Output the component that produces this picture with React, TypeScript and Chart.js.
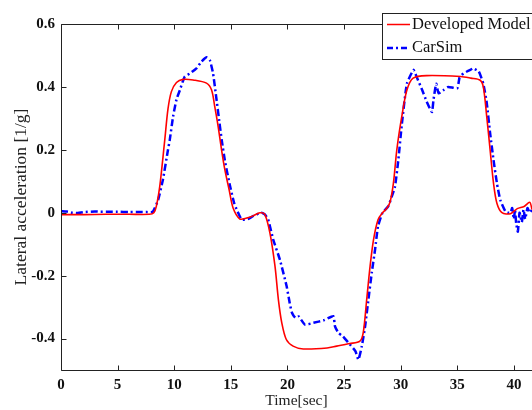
import React, { useEffect, useRef } from "react";
import { Chart, registerables } from "chart.js";

Chart.register(...registerables);

const redTime = [0, 2, 4, 6, 7.8, 8.2, 8.42, 8.72, 9.16, 9.45, 9.75, 10.2, 10.78, 11.67, 12.85, 13.3, 13.58, 13.88, 14.18, 14.47, 14.85, 15.2, 15.8, 16.4, 16.97, 17.57, 18.0, 18.45, 18.9, 19.2, 19.5, 19.9, 20.5, 21.4, 23.5, 24.35, 25.5, 26.4, 26.7, 27.0, 27.3, 27.6, 28.0, 28.4, 28.8, 29.07, 29.36, 29.66, 30.1, 30.55, 31.1, 32.3, 35.3, 36.2, 37.0, 37.3, 37.6, 37.9, 38.2, 38.5, 38.95, 39.7, 40.3, 40.9, 41.4, 41.6];
const redValues = [-0.006, -0.006, -0.005, -0.005, -0.005, 0.0, 0.02, 0.083, 0.23, 0.33, 0.385, 0.414, 0.424, 0.422, 0.412, 0.39, 0.337, 0.274, 0.2, 0.137, 0.073, 0.015, -0.02, -0.017, -0.01, 0.0, -0.005, -0.064, -0.17, -0.276, -0.35, -0.403, -0.424, -0.433, -0.43, -0.424, -0.416, -0.408, -0.38, -0.276, -0.17, -0.086, -0.022, 0.0, 0.015, 0.035, 0.094, 0.2, 0.306, 0.39, 0.428, 0.436, 0.433, 0.428, 0.422, 0.4, 0.306, 0.2, 0.094, 0.03, 0.0, -0.003, 0.013, 0.02, 0.033, 0.01];

const blueTime = [0, 0.5, 1, 1.5, 2, 3, 3.5, 4, 5, 6, 7, 7.5, 8.1, 8.57, 9.0, 9.45, 9.6, 9.9, 10.2, 10.5, 10.93, 11.4, 11.96, 12.4, 12.85, 13.14, 13.43, 13.7, 14.0, 14.2, 14.5, 14.9, 15.3, 15.95, 16.5, 17.0, 17.7, 18.0, 18.3, 18.75, 19.34, 19.93, 20.2, 20.4, 20.7, 21.0, 21.55, 22.3, 23.2, 24.05, 24.2, 24.5, 24.9, 25.4, 26.0, 26.27, 26.57, 26.86, 27.15, 27.45, 27.74, 28.0, 28.4, 28.9, 29.2, 29.5, 29.8, 30.1, 30.55, 31.13, 31.4, 31.9, 32.3, 32.76, 32.9, 33.14, 33.35, 33.8, 34.2, 35.0, 35.2, 35.4, 35.56, 35.86, 36.15, 36.4, 36.9, 37.3, 37.6, 37.9, 38.2, 38.5, 38.8, 39.25, 39.5, 39.7, 39.85, 40.0, 40.1, 40.2, 40.35, 40.5, 40.7, 40.85, 41.0, 41.2, 41.4, 41.6];
const blueValues = [0.005, 0.004, 0.0, -0.001, 0.002, 0.004, 0.003, 0.003, 0.003, 0.002, 0.002, 0.002, 0.003, 0.04, 0.105, 0.2, 0.23, 0.306, 0.36, 0.39, 0.433, 0.443, 0.459, 0.48, 0.494, 0.486, 0.443, 0.37, 0.285, 0.23, 0.16, 0.09, 0.03, -0.022, -0.02, -0.01, 0.0, -0.005, -0.022, -0.086, -0.15, -0.234, -0.287, -0.318, -0.334, -0.33, -0.356, -0.35, -0.342, -0.329, -0.361, -0.382, -0.393, -0.414, -0.44, -0.467, -0.424, -0.361, -0.276, -0.19, -0.117, -0.043, 0.0, 0.02, 0.05, 0.083, 0.17, 0.28, 0.41, 0.454, 0.433, 0.39, 0.353, 0.32, 0.359, 0.41, 0.38, 0.39, 0.4, 0.396, 0.43, 0.438, 0.443, 0.449, 0.454, 0.459, 0.449, 0.41, 0.35, 0.253, 0.168, 0.094, 0.04, 0.004, 0.0, 0.0, 0.015, -0.02, 0.01, -0.033, -0.06, 0.0, -0.03, 0.01, -0.02, 0.015, 0.0, 0.01];

const xTicks = [0, 5, 10, 15, 20, 25, 30, 35, 40];
const yTicks = [-0.4, -0.2, 0, 0.2, 0.4, 0.6];
const seriesNames = ["Developed Model", "CarSim"];
const xTitle = "Time[sec]";
const yTitle = "Lateral acceleration [1/g]";

const FONT = "'Liberation Serif', 'Times New Roman', serif";

const framePlugin = {
  id: "matlabFrame",
  afterDraw(chart: any) {
    const { ctx, chartArea } = chart;
    const { left, right, top, bottom } = chartArea;
    const xs = chart.scales.x;
    const ys = chart.scales.y;
    ctx.save();
    ctx.strokeStyle = "#222";
    ctx.lineWidth = 1;
    const L = Math.round(left) + 0.5;
    const B = Math.round(bottom) + 0.5;
    const T = Math.round(top) + 0.5;
    ctx.beginPath();
    ctx.moveTo(L, T);
    ctx.lineTo(L, B);
    ctx.lineTo(right + 5, B);
    ctx.moveTo(L, T);
    ctx.lineTo(right + 5, T);
    xTicks.forEach((v) => {
      const px = Math.round(xs.getPixelForValue(v)) + 0.5;
      ctx.moveTo(px, B);
      ctx.lineTo(px, B - 5);
      ctx.moveTo(px, T);
      ctx.lineTo(px, T + 5);
    });
    yTicks.forEach((v) => {
      const py = Math.round(ys.getPixelForValue(v)) + 0.5;
      ctx.moveTo(L, py);
      ctx.lineTo(L + 5, py);
    });
    ctx.stroke();

    // legend box
    const bx = 382.5, by = 13.5, bw = 170, bh = 46;
    ctx.fillStyle = "#fff";
    ctx.fillRect(bx, by, bw, bh);
    ctx.strokeStyle = "#222";
    ctx.strokeRect(bx, by, bw, bh);
    ctx.font = `16.5px ${FONT}`;
    ctx.textBaseline = "middle";
    ctx.textAlign = "left";
    ctx.beginPath();
    ctx.strokeStyle = "#ff0000";
    ctx.lineWidth = 1.5;
    ctx.setLineDash([]);
    ctx.moveTo(387, 24.5);
    ctx.lineTo(410, 24.5);
    ctx.stroke();
    ctx.fillStyle = "#111";
    ctx.fillText(seriesNames[0], 412, 25);
    ctx.beginPath();
    ctx.strokeStyle = "#0000ff";
    ctx.lineWidth = 2.5;
    ctx.setLineDash([6, 3, 2, 3]);
    ctx.moveTo(387, 48);
    ctx.lineTo(410, 48);
    ctx.stroke();
    ctx.setLineDash([]);
    ctx.fillText(seriesNames[1], 412, 48);
    ctx.restore();
  },
};

export default function App() {
  const ref = useRef<HTMLCanvasElement>(null);
  useEffect(() => {
    const canvas = ref.current;
    if (!canvas) return;
    const chart = new Chart(canvas, {
      type: "line",
      data: {
        datasets: [
          {
            label: seriesNames[0],
            data: redTime.map((t, i) => ({ x: t, y: redValues[i] })),
            borderColor: "#ff0000",
            borderWidth: 1.6,
            pointRadius: 0,
            tension: 0.3,
            fill: false,
          },
          {
            label: seriesNames[1],
            data: blueTime.map((t, i) => ({ x: t, y: blueValues[i] })),
            borderColor: "#0000ff",
            borderWidth: 2.5,
            borderDash: [7, 3, 2, 3],
            pointRadius: 0,
            tension: 0.15,
            fill: false,
          },
        ],
      },
      options: {
        animation: false,
        responsive: false,
        devicePixelRatio: 1,
        layout: { padding: { top: 24, right: 0, bottom: 0, left: 0 } },
        plugins: { legend: { display: false }, tooltip: { enabled: false } },
        scales: {
          x: {
            type: "linear",
            min: 0,
            max: 41.6,
            grid: { display: false, drawTicks: false },
            border: { display: false },
            afterBuildTicks: (s: any) => {
              s.ticks = xTicks.map((v) => ({ value: v }));
            },
            afterFit: (s: any) => {
              s.height = 40;
            },
            ticks: {
              padding: 6,
              color: "#111",
              maxRotation: 0,
              font: { family: FONT, size: 15, weight: "bold" },
              callback: (v: any) => String(v),
            },
            title: {
              display: true,
              text: xTitle,
              color: "#222",
              padding: { top: 0, bottom: 0 },
              font: { family: FONT, size: 15.5 },
            },
          },
          y: {
            type: "linear",
            min: -0.5,
            max: 0.6,
            grid: { display: false, drawTicks: false },
            border: { display: false },
            afterBuildTicks: (s: any) => {
              s.ticks = yTicks.map((v) => ({ value: v }));
            },
            afterFit: (s: any) => {
              s.width = 61;
            },
            ticks: {
              padding: 6,
              color: "#111",
              font: { family: FONT, size: 15, weight: "bold" },
              callback: (v: any) => (Math.abs(v) < 1e-9 ? "0" : Number(v).toFixed(1)),
            },
            title: {
              display: true,
              text: yTitle,
              color: "#222",
              padding: { top: 11, bottom: 0 },
              font: { family: FONT, size: 17.5 },
            },
          },
        },
      },
      plugins: [framePlugin],
    } as any);
    return () => chart.destroy();
  }, []);
  return (
    <div style={{ position: "fixed", left: 0, top: 0, width: 532, height: 410, overflow: "hidden", background: "#fff" }}>
      <canvas ref={ref} width={532} height={410} />
    </div>
  );
}
